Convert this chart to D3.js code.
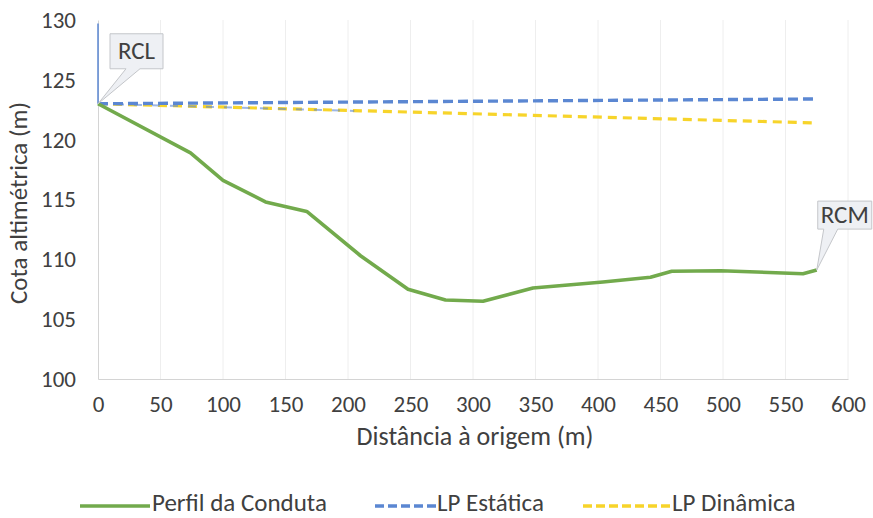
<!DOCTYPE html>
<html><head><meta charset="utf-8">
<script src="https://cdn.jsdelivr.net/npm/d3@7"></script>
<style>
html,body{margin:0;padding:0;background:#fff;}
svg text{font-family:Carlito,"Liberation Sans",sans-serif;fill:#404040;}
</style></head>
<body>
<svg id="c" width="873" height="518"></svg>
<script>
// ---- data ----
const perfilX = [0, 74, 100, 134, 167, 210, 248, 278, 308, 348, 404, 442, 459, 498, 564, 575];
const perfilY = [123.0, 118.9, 116.6, 114.8, 114.0, 110.3, 107.5, 106.6, 106.5, 107.6, 108.1, 108.5, 109.0, 109.05, 108.8, 109.1];
const estaticaX = [0, 575];
const estaticaY = [123.0, 123.4];
const estatica2X = [0, 205];
const estatica2Y = [123.0, 122.4];
const verticalX = [0, 0];
const verticalY = [129.7, 123.0];
const dinamicaX = [0, 575];
const dinamicaY = [123.0, 121.4];
const xTicks = [0, 50, 100, 150, 200, 250, 300, 350, 400, 450, 500, 550, 600];
const yTicks = [100, 105, 110, 115, 120, 125, 130];
const seriesNames = ["Perfil da Conduta", "LP Estática", "LP Dinâmica"];
const callouts = [{label: "RCL", x: 0, y: 123.0}, {label: "RCM", x: 575, y: 109.1}];

const svg = d3.select("#c");
const x = d3.scaleLinear().domain([0, 600]).range([98, 848]);
const y = d3.scaleLinear().domain([100, 130]).range([379, 20]);

const green = "#72aa4c", blue = "#5b87d2", yellow = "#f7d42a";
const FONT = 'Carlito,"Liberation Sans",sans-serif';

// gridlines (vertical)
svg.append("g").selectAll("line").data(xTicks.slice(1)).join("line")
  .attr("x1", d => x(d)).attr("x2", d => x(d)).attr("y1", y(130)).attr("y2", y(100))
  .attr("stroke", "#eeeeee").attr("stroke-width", 1);

// axes
const xAxis = svg.append("g").attr("transform", `translate(0,${y(100)})`)
  .call(d3.axisBottom(x).tickValues(xTicks).tickSize(0).tickPadding(17));
xAxis.select(".domain").attr("stroke", "#d4d4d4");
xAxis.selectAll("text").attr("font-size", 23).style("font-family", FONT).attr("fill", "#404040");

const yAxis = svg.append("g").attr("transform", `translate(${x(0)},0)`)
  .call(d3.axisLeft(y).tickValues(yTicks).tickSize(0).tickPadding(22));
yAxis.select(".domain").attr("stroke", "#d4d4d4");
yAxis.selectAll("text").attr("font-size", 23).style("font-family", FONT).attr("fill", "#404040");

// axis titles
svg.append("text").attr("x", 475).attr("y", 445).attr("text-anchor", "middle")
  .attr("font-size", 26).text("Distância à origem (m)");
svg.append("text").attr("transform", "translate(27,203) rotate(-90)").attr("text-anchor", "middle")
  .attr("font-size", 25).text("Cota altimétrica (m)");

const line = d3.line().x(d => x(d[0])).y(d => y(d[1]));
const zip = (a, b) => a.map((v, i) => [v, b[i]]);

// vertical thin blue
svg.append("path").attr("d", line(zip(verticalX, verticalY))).attr("fill", "none")
  .attr("stroke", blue).attr("stroke-width", 1.5);
// dinamica
svg.append("path").attr("d", line(zip(dinamicaX, dinamicaY))).attr("fill", "none")
  .attr("stroke", yellow).attr("stroke-width", 3.2).attr("stroke-dasharray", "9,6");
// estatica
svg.append("path").attr("d", line(zip(estaticaX, estaticaY))).attr("fill", "none")
  .attr("stroke", blue).attr("stroke-width", 3.4).attr("stroke-dasharray", "10,5");
svg.append("path").attr("d", line(zip(estatica2X, estatica2Y))).attr("fill", "none")
  .attr("stroke", blue).attr("stroke-width", 2).attr("stroke-dasharray", "8,10").attr("opacity", 0.6);
// perfil
svg.append("path").attr("d", line(zip(perfilX, perfilY))).attr("fill", "none")
  .attr("stroke", green).attr("stroke-width", 3.6).attr("stroke-linejoin", "round");

// callouts
const boxes = {RCL: {dx: 12, dy: -70, w: 53, h: 35, b1: 16, b2: 30},
               RCM: {dx: 1, dy: -69, w: 54, h: 28, b1: 6, b2: 20}};
callouts.forEach(c => {
  const px = x(c.x), py = y(c.y), b = boxes[c.label];
  const bx = px + b.dx, by = py + b.dy;
  const p = d3.path();
  p.moveTo(bx, by); p.lineTo(bx + b.w, by); p.lineTo(bx + b.w, by + b.h);
  p.lineTo(bx + b.b2, by + b.h); p.lineTo(px, py); p.lineTo(bx + b.b1, by + b.h);
  p.lineTo(bx, by + b.h); p.closePath();
  svg.append("path").attr("d", p.toString()).attr("fill", "#eef0f4").attr("stroke", "#c4c6ca").attr("stroke-width", 1);
  svg.append("text").attr("x", bx + b.w / 2).attr("y", by + b.h / 2 + 8).attr("text-anchor", "middle")
    .attr("font-size", 25).attr("fill", "#333").text(c.label);
});

// legend
const legend = [
  {name: seriesNames[0], color: green, dash: null, x1: 80, x2: 150, tx: 152},
  {name: seriesNames[1], color: blue, dash: "9,4", x1: 375, x2: 437, tx: 437},
  {name: seriesNames[2], color: yellow, dash: "9,4", x1: 583, x2: 670, tx: 672}
];
const lg = svg.append("g");
legend.forEach(l => {
  lg.append("line").attr("x1", l.x1).attr("x2", l.x2).attr("y1", 506).attr("y2", 506)
    .attr("stroke", l.color).attr("stroke-width", 3.5).attr("stroke-dasharray", l.dash);
  lg.append("text").attr("x", l.tx).attr("y", 511).attr("font-size", 25).text(l.name);
});
</script>
</body></html>
